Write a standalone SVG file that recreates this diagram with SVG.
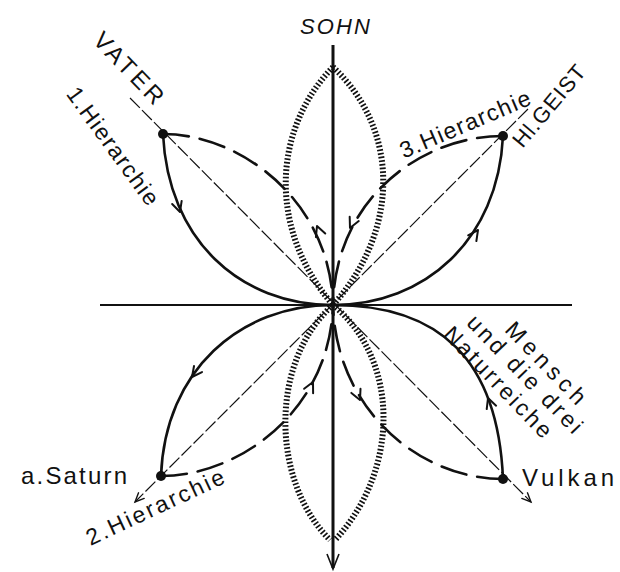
<svg xmlns="http://www.w3.org/2000/svg" xmlns:xlink="http://www.w3.org/1999/xlink" width="620" height="572" viewBox="0 0 620 572">
<style>
  .axis { stroke: #111; fill: none; }
  .diag { stroke: #111; stroke-width: 1.2; fill: none; stroke-dasharray: 14 3; }
  .solid { stroke: #111; stroke-width: 2.6; fill: none; stroke-linecap: round; }
  .dashed { stroke: #111; stroke-width: 2.6; fill: none; stroke-dasharray: 26 11; stroke-linecap: round; }
  .hatch { stroke: #111; stroke-width: 6; fill: none; stroke-dasharray: 1.7 2; }
  .ah { stroke: #111; stroke-width: 2; fill: none; stroke-linecap: round; stroke-linejoin: round; }
  .ahs { stroke: #111; stroke-width: 1.4; fill: none; stroke-linecap: round; }
  .dot { fill: #111; }
  text { font-family: "Liberation Sans", Arial, sans-serif; fill: #111; }
  .lbl { font-size: 22px; dominant-baseline: central; text-anchor: middle; }
  .big { font-size: 23px; }
</style>
<defs>
  <path id="ah" class="ah" d="M-10,-5 L0,0 L-10,5"/>
  <path id="ahs" class="ahs" d="M-9,-4 L0,0 L-9,4"/>
</defs>

<g id="connectors">
  <!-- axes -->
  <path class="axis" stroke-width="3" d="M333,45 V568"/>
  <path class="axis" stroke-width="1.6" d="M327,554 L333,569 L339,554"/>
  <path class="axis" stroke-width="1.8" d="M100,305 H572"/>
  <!-- diagonals -->
  <path class="diag" d="M130,98 L531,502"/>
  <path class="diag" d="M528,109 L135,502"/>
  <use xlink:href="#ahs" transform="translate(531,502) rotate(45)"/>
  <use xlink:href="#ahs" transform="translate(135,502) rotate(135)"/>

  <!-- hatched lenses -->
  <path class="hatch" d="M333,67 C272,130 268,230 333,305"/>
  <path class="hatch" d="M333,67 C400,130 400,230 333,305"/>
  <path class="hatch" d="M333,305 C270,360 270,480 330,540"/>
  <path class="hatch" d="M333,305 C400,360 400,470 335,540"/>

  <!-- top-left petal -->
  <path class="solid" d="M163,134 C168,240 240,305 333,305"/>
  <path class="dashed" d="M163,134 C240,134 330,200 333,305"/>
  <use xlink:href="#ah" transform="translate(180,212) rotate(72)"/>
  <use xlink:href="#ah" transform="translate(317,226) rotate(-111)"/>

  <!-- top-right petal -->
  <path class="solid" d="M333,305 C425,305 498,240 503,136"/>
  <path class="dashed" d="M503,136 C420,136 335,200 333,305"/>
  <use xlink:href="#ah" transform="translate(478,230) rotate(-55)"/>
  <use xlink:href="#ah" transform="translate(350,228) rotate(115)"/>

  <!-- bottom-left petal -->
  <path class="solid" d="M333,305 C240,305 165,370 161,476"/>
  <path class="dashed" d="M161,476 C240,476 330,410 333,305"/>
  <use xlink:href="#ah" transform="translate(192,377) rotate(127)"/>
  <use xlink:href="#ah" transform="translate(313,382) rotate(-64)"/>

  <!-- bottom-right petal -->
  <path class="solid" d="M503,479 C498,360 440,305 333,305"/>
  <path class="dashed" d="M503,479 C420,479 336,410 333,305"/>
  <use xlink:href="#ah" transform="translate(488,398) rotate(-110)"/>
  <use xlink:href="#ah" transform="translate(360,400) rotate(66)"/>
</g>

<g id="node-sohn">
  <text x="335" y="26" font-size="22" dominant-baseline="central" text-anchor="middle" font-style="italic" textLength="70" lengthAdjust="spacing">SOHN</text>
</g>
<g id="node-vater">
  <circle class="dot" cx="163" cy="134" r="5"/>
  <text class="lbl" style="font-size:24px" transform="translate(129,68) rotate(46)" textLength="90" lengthAdjust="spacing">VATER</text>
  <text class="lbl big" transform="translate(113,146) rotate(54)" textLength="140" lengthAdjust="spacing">1.Hierarchie</text>
</g>
<g id="node-geist">
  <circle class="dot" cx="503" cy="136" r="5"/>
  <text class="lbl big" transform="translate(465,124) rotate(-23)" textLength="140" lengthAdjust="spacing">3.Hierarchie</text>
  <text class="lbl" transform="translate(549,106) rotate(-50)" textLength="100" lengthAdjust="spacing">Hl.GEIST</text>
</g>
<g id="node-saturn">
  <circle class="dot" cx="161" cy="476" r="5"/>
  <text x="21" y="484" font-size="24" textLength="106" lengthAdjust="spacing">a.Saturn</text>
  <text class="lbl big" transform="translate(155,507) rotate(-25)" textLength="150" lengthAdjust="spacing">2.Hierarchie</text>
</g>
<g id="node-vulkan">
  <circle class="dot" cx="503" cy="479" r="5"/>
  <text x="522" y="486" font-size="24" textLength="92" lengthAdjust="spacing">Vulkan</text>
  <text class="lbl big" transform="translate(546,363) rotate(46)" textLength="105" lengthAdjust="spacing">Mensch</text>
  <text class="lbl big" transform="translate(525,374) rotate(46)" textLength="155" lengthAdjust="spacing">und die drei</text>
  <text class="lbl big" transform="translate(498,382) rotate(46)" textLength="145" lengthAdjust="spacing">Naturreiche</text>
</g>
</svg>
